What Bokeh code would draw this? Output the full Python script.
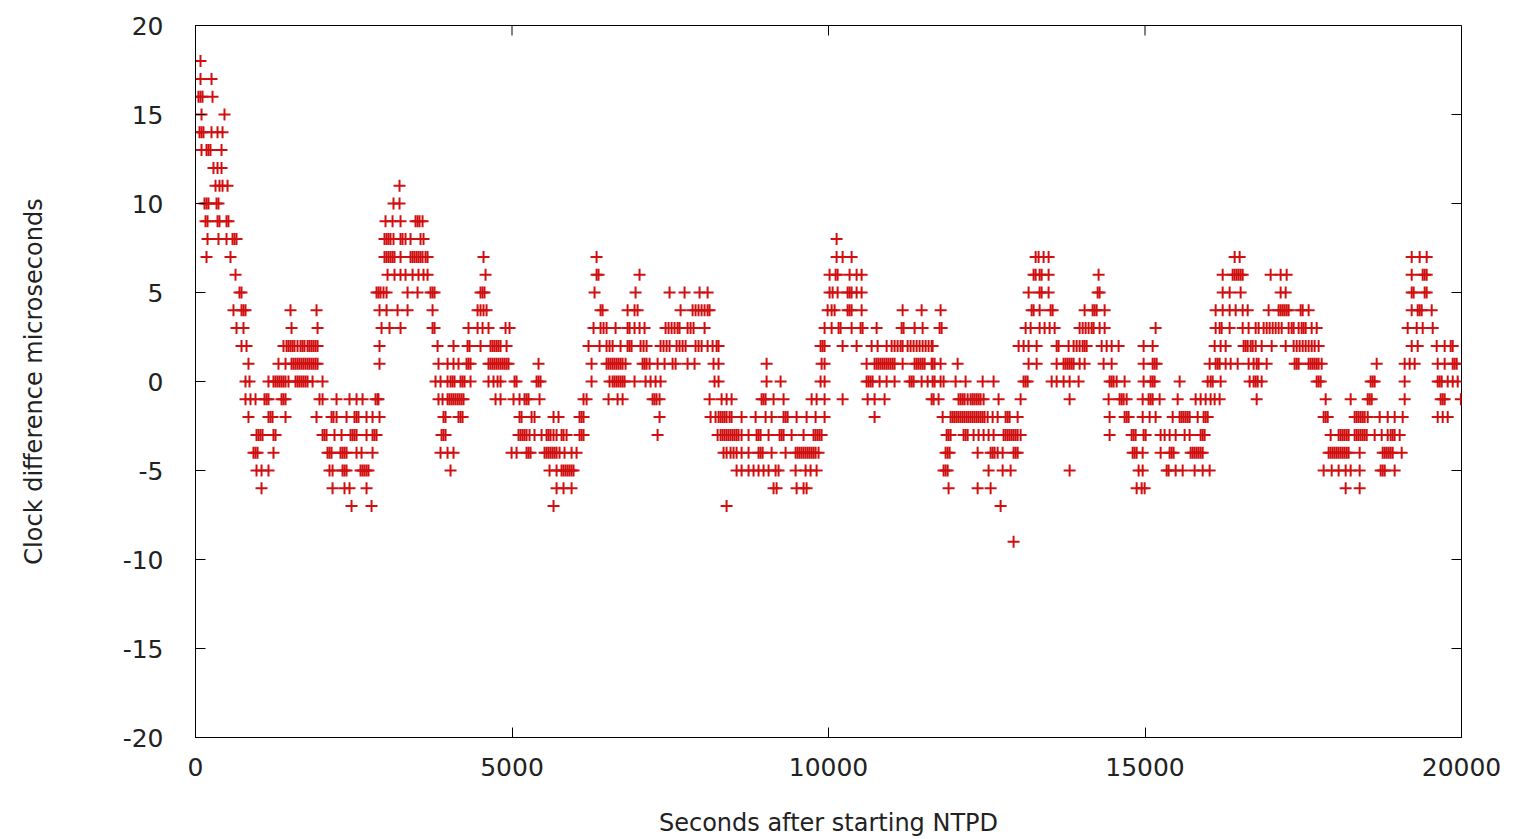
from bokeh.plotting import figure
from bokeh.models import LinearAxis, FixedTicker, Range1d
from bokeh.embed import file_html
from bokeh.resources import INLINE

# Seconds after starting NTPD at which each clock-difference level (microseconds) was observed
t_y18 = [79]
t_y17 = [79, 253]
t_y16 = [47, 79, 111, 269]
t_y15 = [95, 458]
t_y14 = [63, 95, 126, 253, 348, 427]
t_y13 = [95, 174, 205, 237, 411]
t_y12 = [284, 348, 411]
t_y11 = [316, 379, 427, 506, 3223]
t_y10 = [142, 174, 205, 332, 363, 3128, 3223]
t_y9 = [158, 190, 348, 379, 490, 521, 3002, 3113, 3239, 3476, 3508, 3539, 3587]
t_y8 = [190, 363, 490, 585, 616, 648, 2986, 3018, 3049, 3081, 3128, 3239, 3271, 3318,
        3397, 3555, 3602, 10128]
t_y7 = [174, 553, 2986, 3018, 3049, 3081, 3113, 3144, 3239, 3397, 3429, 3460, 3492, 3523,
        3555, 3587, 3634, 3666, 4550, 6336, 10128, 10223, 10365, 13272, 13319, 13398, 13477,
        16416, 16495, 19213, 19339, 19450]
t_y6 = [632, 3034, 3144, 3239, 3318, 3429, 3523, 3602, 3666, 4582, 6336, 6367, 7015, 10017,
        10112, 10144, 10333, 10444, 10523, 13240, 13272, 13335, 13367, 13477, 14267, 16227,
        16385, 16416, 16448, 16479, 16511, 16543, 16985, 17143, 17238, 19213, 19387, 19418, 19450]
t_y5 = [695, 727, 2860, 2891, 2923, 2970, 3018, 3350, 3508, 3713, 3745, 3776, 4503, 4535,
        4566, 6304, 6952, 7489, 7726, 7963, 8090, 10017, 10065, 10144, 10302, 10333, 10365,
        10444, 10523, 13161, 13335, 13367, 13477, 14252, 14283, 16227, 16337, 16511, 17143,
        17222, 19213, 19244, 19418, 19450]
t_y4 = [600, 727, 758, 790, 1501, 1912, 2907, 3018, 3192, 3350, 3745, 4456, 4503, 4550, 4598,
        6399, 6431, 6826, 6936, 6984, 7663, 7853, 7900, 7947, 7995, 8042, 8090, 8121, 9986,
        10049, 10096, 10302, 10333, 10365, 10523, 11171, 11471, 11771, 13209, 13240, 13335,
        13509, 13541, 14046, 14173, 14204, 14236, 14362, 16116, 16227, 16337, 16432, 16543,
        16622, 16953, 17111, 17143, 17175, 17206, 17238, 17269, 17459, 17491, 17585, 19213,
        19308, 19339, 19371, 19529]
t_y3 = [648, 758, 1517, 1928, 2939, 3065, 3239, 3745, 3776, 4313, 4456, 4535, 4629, 4898, 4961,
        6288, 6399, 6446, 6494, 6636, 6826, 6857, 6936, 7015, 7094, 7426, 7473, 7521, 7568,
        7616, 7647, 7774, 7821, 7868, 8042, 9938, 10049, 10159, 10191, 10365, 10507, 10539,
        10760, 11155, 11186, 11360, 11487, 11755, 11787, 13114, 13193, 13335, 13414, 13493,
        13572, 13967, 14015, 14062, 14109, 14157, 14188, 14283, 14362, 15168, 16116, 16179,
        16211, 16337, 16543, 16637, 16748, 16795, 16874, 16922, 16969, 17017, 17064, 17111,
        17159, 17269, 17317, 17348, 17427, 17475, 17506, 17538, 17633, 17712, 19150, 19292,
        19387, 19545]
t_y2 = [727, 806, 1390, 1438, 1469, 1501, 1533, 1564, 1612, 1659, 1691, 1722, 1770, 1801, 1833,
        1864, 1896, 1928, 2907, 3824, 4076, 4298, 4329, 4503, 4661, 4693, 4724, 4756, 4787,
        4819, 4914, 6209, 6383, 6494, 6541, 6589, 6715, 6826, 6857, 6889, 7031, 7078, 7126,
        7347, 7394, 7442, 7489, 7600, 7647, 7695, 7742, 7900, 7947, 7995, 8090, 8169, 8232,
        8263, 9875, 9907, 9938, 10223, 10444, 10681, 10776, 10918, 10997, 11044, 11092, 11139,
        11171, 11250, 11297, 11344, 11392, 11439, 11487, 11534, 11581, 11629, 11645, 13003,
        13082, 13161, 13288, 13604, 13635, 13793, 13872, 13920, 13967, 14015, 14046, 14078,
        14315, 14394, 14473, 14583, 14978, 15121, 16100, 16195, 16274, 16558, 16590, 16622,
        16669, 16701, 16748, 16843, 17001, 17222, 17348, 17396, 17443, 17491, 17538, 17585,
        17633, 17680, 17743, 19213, 19308, 19608, 19734, 19829, 19861]
t_y1 = [837, 1311, 1422, 1517, 1548, 1580, 1612, 1643, 1675, 1706, 1738, 1770, 1801, 1833, 1864,
        1896, 1928, 2907, 3839, 3982, 4076, 4155, 4282, 4313, 4345, 4629, 4661, 4693, 4724,
        4756, 4787, 4819, 4851, 4882, 4914, 4945, 5419, 6257, 6494, 6525, 6557, 6589, 6620,
        6652, 6683, 6715, 6747, 6794, 7063, 7094, 7126, 7173, 7300, 7410, 7537, 7584, 7774,
        7884, 8184, 8263, 9022, 9891, 9938, 10602, 10728, 10760, 10791, 10823, 10855, 10886,
        10918, 10949, 10981, 11013, 11044, 11171, 11360, 11392, 11423, 11455, 11487, 11518,
        11629, 11645, 11676, 11771, 12040, 13161, 13288, 13604, 13714, 13746, 13778, 13809,
        13841, 13872, 13967, 14046, 14346, 14473, 14978, 15121, 15152, 15184, 16021, 16116,
        16148, 16179, 16274, 16353, 16464, 16637, 16716, 16764, 16795, 16922, 17364, 17396,
        17427, 17585, 17617, 17649, 17680, 17712, 17743, 17791, 18660, 19102, 19181, 19260,
        19624, 19734, 19861, 19892, 19924]
t_y0 = [790, 853, 1153, 1232, 1264, 1296, 1327, 1359, 1390, 1422, 1469, 1580, 1612, 1643, 1675,
        1706, 1738, 1770, 1849, 2007, 3792, 3871, 3982, 4029, 4061, 4092, 4187, 4219, 4250,
        4345, 4629, 4708, 4772, 4819, 5040, 5072, 5388, 5419, 5451, 6257, 6541, 6589, 6620,
        6652, 6683, 6715, 6747, 6778, 6936, 7110, 7189, 7268, 7347, 8200, 8263, 9022, 9243,
        9875, 9938, 10602, 10633, 10665, 10697, 10807, 10918, 11044, 11281, 11313, 11344,
        11471, 11566, 11645, 11676, 11771, 11818, 12008, 12166, 12435, 12608, 13082, 13114,
        13146, 13525, 13604, 13714, 13809, 13951, 14441, 14473, 14504, 14552, 14678, 14978,
        15089, 15121, 15152, 15547, 15990, 16037, 16069, 16195, 16653, 16716, 16748, 16780,
        16843, 17712, 17743, 17775, 18565, 18597, 18628, 19102, 19624, 19655, 19687, 19782,
        19861, 19940]
t_ym1 = [790, 869, 948, 1090, 1122, 1153, 1359, 1390, 1422, 1959, 2007, 2228, 2433, 2544, 2639,
         2844, 2876, 2891, 3839, 3903, 3982, 4013, 4045, 4076, 4108, 4140, 4171, 4203, 4234,
         4740, 4819, 5024, 5119, 5198, 5230, 5261, 5435, 6130, 6178, 6525, 6668, 6747, 7221,
         7252, 7284, 7331, 8121, 8311, 8390, 8469, 8943, 8974, 9006, 9132, 9290, 9733, 9812,
         9938, 10223, 10618, 10728, 10886, 11629, 11660, 11739, 12055, 12087, 12119, 12150,
         12198, 12245, 12277, 12308, 12340, 12371, 12403, 12450, 12687, 13035, 13809, 14425,
         14599, 14631, 14662, 14710, 14963, 15057, 15089, 15121, 15231, 15516, 15800, 15879,
         15958, 16037, 16100, 16179, 16764, 17854, 18249, 18518, 18549, 18581, 19102, 19671,
         19703, 19734, 19990]
t_ym2 = [837, 1153, 1185, 1217, 1422, 1912, 2149, 2180, 2228, 2386, 2512, 2544, 2575, 2702, 2797,
         2907, 3918, 3950, 4155, 4187, 4219, 5119, 5151, 5309, 5356, 5656, 5735, 6067, 6099,
         6130, 7331, 8137, 8216, 8263, 8295, 8327, 8358, 8390, 8437, 8469, 8627, 8848, 9006,
         9101, 9290, 9322, 9354, 9496, 9654, 9796, 9938, 10728, 11803, 11929, 11961, 11992,
         12024, 12055, 12087, 12119, 12150, 12182, 12213, 12245, 12277, 12308, 12340, 12371,
         12403, 12435, 12466, 12514, 12593, 12672, 12798, 12830, 12861, 12988, 14441, 14678,
         14710, 14741, 14963, 15073, 15168, 15437, 15547, 15579, 15610, 15642, 15674, 15705,
         15832, 15926, 15958, 15990, 17822, 17854, 17886, 18312, 18344, 18375, 18407, 18439,
         18470, 18518, 18707, 18834, 18944, 19071, 19624, 19703, 19782]
t_ym3 = [964, 995, 1027, 1059, 1232, 1264, 2007, 2038, 2070, 2196, 2307, 2449, 2481, 2512, 2544,
         2702, 2797, 2828, 2860, 3887, 3918, 3950, 5103, 5135, 5167, 5198, 5230, 5277, 5356,
         5467, 5546, 5577, 5609, 5656, 5704, 5783, 5814, 5862, 6067, 6099, 6130, 7300, 8248,
         8295, 8327, 8358, 8390, 8421, 8453, 8485, 8516, 8548, 8579, 8627, 8737, 8864, 8895,
         8927, 9053, 9227, 9259, 9290, 9417, 9606, 9764, 9796, 9828, 9859, 9891, 11866, 11897,
         11929, 12134, 12166, 12198, 12292, 12371, 12450, 12529, 12608, 12766, 12798, 12830,
         12861, 12893, 12924, 12956, 12988, 13035, 14441, 14789, 14820, 14852, 14978, 15010,
         15247, 15310, 15389, 15484, 15626, 15705, 15879, 15911, 15942, 17933, 18059, 18091,
         18123, 18154, 18186, 18217, 18312, 18344, 18375, 18407, 18439, 18470, 18502, 18628,
         18739, 18834, 18881, 18913, 18944, 19023]
t_ym4 = [916, 948, 980, 1232, 2086, 2117, 2149, 2291, 2323, 2354, 2386, 2544, 2623, 2797, 3871,
         3982, 4076, 4993, 5072, 5230, 5261, 5293, 5514, 5546, 5577, 5609, 5641, 5672, 5704,
         5751, 5830, 5941, 6020, 8342, 8390, 8453, 8500, 8548, 8627, 8737, 8895, 8927, 8959,
         9101, 9322, 9480, 9512, 9543, 9575, 9606, 9638, 9670, 9701, 9733, 9764, 9796, 9843,
         11850, 11882, 11913, 12356, 12561, 12593, 12624, 12672, 12751, 12924, 12956, 12988,
         14805, 14836, 14868, 14963, 15247, 15389, 15421, 15452, 15721, 15753, 15784, 15816,
         15847, 15879, 15911, 17901, 17933, 17965, 17996, 18028, 18059, 18091, 18123, 18154,
         18186, 18217, 18391, 18755, 18787, 18818, 18850, 18881, 18913, 19055]
t_ym5 = [964, 1043, 1153, 2117, 2165, 2323, 2354, 2386, 2607, 2639, 2670, 2702, 2733, 4029, 5593,
         5704, 5783, 5814, 5846, 5878, 5909, 5941, 5972, 8548, 8627, 8737, 8816, 8895, 8974,
         9053, 9164, 9211, 9480, 9638, 9717, 9812, 11818, 11850, 11882, 12529, 12751, 12877,
         13809, 14899, 14963, 15342, 15373, 15484, 15595, 15784, 15911, 16021, 17822, 17949,
         18059, 18170, 18249, 18391, 18723, 18755, 18787, 18944]
t_ym6 = [1043, 2165, 2354, 2433, 2702, 5704, 5814, 5941, 9132, 9180, 9496, 9606, 9654, 11897,
         12356, 12561, 14868, 14947, 14994, 18170, 18391]
t_ym7 = [2465, 2781, 5656, 8390, 12719]
t_ym9 = [12924]

levels = [18, 17, 16, 15, 14, 13, 12, 11, 10, 9, 8, 7, 6, 5, 4, 3, 2, 1, 0,
          -1, -2, -3, -4, -5, -6, -7, -9]
level_times = [t_y18, t_y17, t_y16, t_y15, t_y14, t_y13, t_y12, t_y11, t_y10, t_y9, t_y8,
               t_y7, t_y6, t_y5, t_y4, t_y3, t_y2, t_y1, t_y0, t_ym1, t_ym2, t_ym3, t_ym4,
               t_ym5, t_ym6, t_ym7, t_ym9]

x_ticks = [0, 5000, 10000, 15000, 20000]
y_ticks = [-20, -15, -10, -5, 0, 5, 10, 15, 20]
x_min, x_max = 0, 20000
y_min, y_max = -20, 20

xs, ys = [], []
for lv, ts in zip(levels, level_times):
    for t in ts:
        xs.append(t)
        ys.append(lv)

FONT = "DejaVu Sans"
W, H = 1529, 839
BL, BR, BT, BB = 195, 68, 25, 100
TICK_PX = 10

p = figure(width=W, height=H, output_backend="svg", toolbar_location=None,
           x_range=Range1d(x_min, x_max), y_range=Range1d(y_min, y_max),
           min_border_left=BL, min_border_right=BR, min_border_top=BT,
           min_border_bottom=BB, x_axis_location=None, y_axis_location=None)
p.background_fill_color = "white"
p.border_fill_color = "white"
p.outline_line_color = "black"
p.outline_line_width = 1
p.xgrid.visible = False
p.ygrid.visible = False

def style_axis(ax, ticks, label, standoff, label_standoff):
    ax.ticker = FixedTicker(ticks=ticks, minor_ticks=[])
    ax.major_tick_in = TICK_PX
    ax.major_tick_out = 0
    ax.minor_tick_in = 0
    ax.minor_tick_out = 0
    ax.major_tick_line_color = "black"
    ax.axis_line_color = "black"
    ax.major_label_text_font = FONT
    ax.major_label_text_font_size = "25px"
    ax.major_label_text_color = "#222222"
    ax.major_label_standoff = standoff
    ax.major_label_overrides = {t: str(t) for t in ticks}
    ax.axis_label = label
    ax.axis_label_text_font = FONT
    ax.axis_label_text_font_size = "24px"
    ax.axis_label_text_font_style = "normal"
    ax.axis_label_text_color = "#222222"
    ax.axis_label_standoff = label_standoff

bottom = LinearAxis()
style_axis(bottom, x_ticks, "Seconds after starting NTPD", 20, 30)
p.add_layout(bottom, "below")
left = LinearAxis()
style_axis(left, y_ticks, "Clock difference microseconds", 32, 72)
p.add_layout(left, "left")

# inward tick marks on the top and right edges (mirrors of the bottom/left ticks)
plot_w = W - BL - BR
plot_h = H - BT - BB
dx = TICK_PX * (x_max - x_min) / plot_w
dy = TICK_PX * (y_max - y_min) / plot_h
p.segment(x0=x_ticks, x1=x_ticks, y0=[y_max] * len(x_ticks), y1=[y_max - dy] * len(x_ticks),
          line_color="black", line_width=1)
p.segment(x0=[x_max] * len(y_ticks), x1=[x_max - dx] * len(y_ticks), y0=y_ticks, y1=y_ticks,
          line_color="black", line_width=1)

p.scatter(xs, ys, marker="cross", size=12, line_color="#d01010", line_width=2)

open("out.html", "w").write(file_html(p, INLINE))
